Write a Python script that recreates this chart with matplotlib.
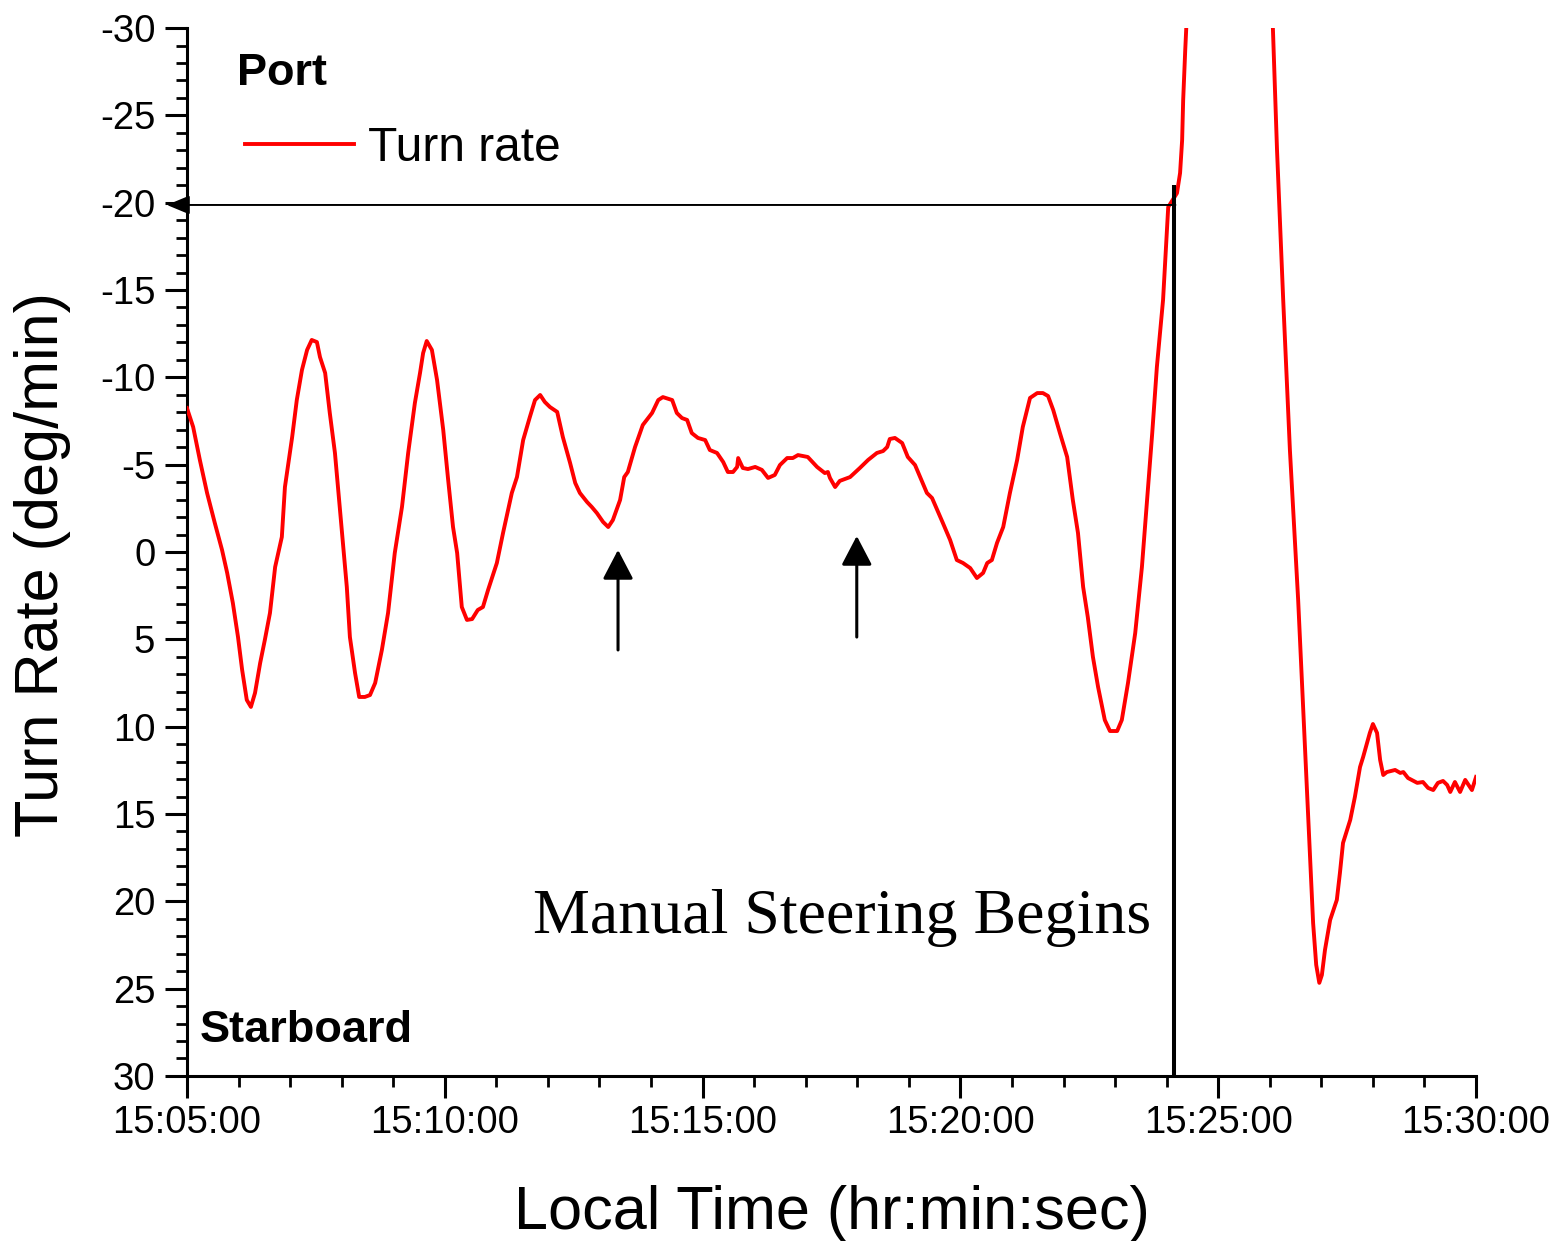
import matplotlib
matplotlib.use("Agg")
import matplotlib.pyplot as plt
import matplotlib.dates as mdates
import pandas as pd

plt.rcParams["font.family"] = ["Liberation Sans", "DejaVu Sans"]
plt.rcParams["axes.unicode_minus"] = False

START = pd.Timestamp("2000-01-01 15:05:00")
END = pd.Timestamp("2000-01-01 15:30:00")

# minutes after 15:05:00
t_min = [
    0.00, 0.12, 0.25, 0.39, 0.54, 0.68, 0.78, 0.89, 0.99, 1.07, 1.16, 1.24, 1.32, 1.42, 1.51, 1.61,
    1.71, 1.84, 1.90, 2.04, 2.13, 2.23, 2.33, 2.42, 2.52, 2.58, 2.68, 2.77, 2.87, 2.95, 3.03, 3.10,
    3.16, 3.26, 3.34, 3.45, 3.55, 3.65, 3.78, 3.90, 4.03, 4.17, 4.29, 4.42, 4.52, 4.58, 4.65, 4.75,
    4.85, 4.97, 5.06, 5.16, 5.24, 5.33, 5.43, 5.53, 5.64, 5.74, 5.84, 6.01, 6.13, 6.30, 6.40, 6.52,
    6.65, 6.75, 6.85, 6.94, 7.04, 7.18, 7.29, 7.43, 7.53, 7.62, 7.76, 7.85, 7.95, 8.07, 8.17, 8.26,
    8.40, 8.48, 8.55, 8.69, 8.84, 9.02, 9.14, 9.23, 9.41, 9.50, 9.60, 9.70, 9.79, 9.91, 10.05, 10.14,
    10.28, 10.40, 10.49, 10.59, 10.67, 10.69, 10.78, 10.88, 11.02, 11.15, 11.27, 11.40, 11.50, 11.64,
    11.75, 11.85, 12.04, 12.22, 12.37, 12.43, 12.47, 12.57, 12.66, 12.86, 13.05, 13.21, 13.38, 13.50,
    13.58, 13.63, 13.73, 13.87, 13.98, 14.12, 14.22, 14.35, 14.45, 14.55, 14.66, 14.80, 14.93, 15.05,
    15.19, 15.32, 15.44, 15.52, 15.61, 15.71, 15.83, 15.96, 16.10, 16.21, 16.35, 16.49, 16.60, 16.70,
    16.80, 16.93, 17.07, 17.18, 17.28, 17.38, 17.47, 17.57, 17.67, 17.80, 17.90, 18.04, 18.13, 18.25,
    18.39, 18.52, 18.62, 18.72, 18.81, 18.93, 19.03, 19.20, 19.26, 19.30, 19.32, 19.36, 19.38, 19.45,
    21.02, 21.06, 21.14, 21.26, 21.39, 21.55, 21.72, 21.84, 21.90, 21.96, 22.01, 22.07, 22.17, 22.30,
    22.36, 22.42, 22.56, 22.65, 22.75, 22.81, 22.94, 23.00, 23.08, 23.14, 23.20, 23.27, 23.43, 23.53,
    23.59, 23.68, 23.86, 23.97, 24.07, 24.17, 24.26, 24.36, 24.44, 24.50, 24.59, 24.69, 24.79, 24.92,
    25.00,
]
turn_rate = [
    -8.24, -7.16, -5.27, -3.38, -1.66, -0.12, 1.20, 2.92, 4.87, 6.75, 8.47, 8.87, 8.07, 6.35, 5.04, 3.49,
    0.86, -0.86, -3.72, -6.58, -8.70, -10.42, -11.57, -12.14, -12.02, -11.16, -10.25, -7.96, -5.67, -2.98, -0.29, 2.00,
    4.87, 6.93, 8.30, 8.30, 8.19, 7.50, 5.61, 3.49, 0.06, -2.58, -5.67, -8.53, -10.25, -11.39, -12.08, -11.57,
    -9.85, -6.99, -4.29, -1.43, 0.06, 3.15, 3.89, 3.84, 3.32, 3.15, 2.17, 0.63, -1.09, -3.38, -4.29, -6.41,
    -7.73, -8.70, -8.99, -8.59, -8.30, -8.02, -6.58, -5.10, -3.95, -3.38, -2.86, -2.58, -2.23, -1.72, -1.43, -1.83,
    -2.98, -4.29, -4.58, -6.01, -7.27, -7.96, -8.70, -8.87, -8.70, -7.96, -7.67, -7.56, -6.81, -6.53, -6.41, -5.84,
    -5.67, -5.15, -4.58, -4.58, -4.87, -5.38, -4.81, -4.75, -4.87, -4.70, -4.24, -4.41, -4.98, -5.38,
    -5.38, -5.55, -5.44, -4.87, -4.52, -4.58, -4.24, -3.72, -4.07, -4.29, -4.81, -5.27, -5.67, -5.78,
    -6.01, -6.47, -6.53, -6.24, -5.44, -4.98, -4.29, -3.38, -3.09, -2.41, -1.66, -0.69, 0.46, 0.63,
    0.92, 1.49, 1.20, 0.63, 0.46, -0.52, -1.43, -3.38, -5.27, -7.16, -8.82, -9.10, -9.10, -8.93,
    -8.13, -6.81, -5.44, -2.98, -1.09, 2.00, 3.72, 6.01, 7.73, 9.62, 10.25, 10.25, 9.62, 7.50,
    4.64, 0.86, -2.98, -6.81, -10.59, -14.43, -19.75, -20.55, -21.70, -23.59, -25.88, -28.74, -30.00, -35.00,
    -33.00, -30.00, -23.02, -14.43, -5.84, 2.75, 13.63, 21.24, 23.64, 24.67, 24.22, 22.79, 21.07, 19.92,
    18.38, 16.66, 15.34, 14.03, 12.31, 11.74, 10.36, 9.85, 10.36, 11.91, 12.77, 12.60, 12.48, 12.65,
    12.60, 12.94, 13.22, 13.17, 13.51, 13.63, 13.22, 13.11, 13.34, 13.74, 13.17, 13.74, 13.05, 13.63,
    12.88,
]

# annotation positions (minutes after 15:05:00, deg/min)
manual_start_min = 19.14
threshold_rate = -19.87
arrow_times = [8.36, 12.99]
arrow_tails = [5.61, 4.87]
arrow_tips = [-0.12, -0.92]


def at(minutes):
    return START + pd.Timedelta(minutes=minutes)


times = [at(m) for m in t_min]

fig = plt.figure(figsize=(15.58, 12.41), dpi=100)
ax = fig.add_axes([0.1200, 0.1330, 0.8274, 0.8444])

ax.plot(times, turn_rate, color="#ff0000", lw=2.8, label="Turn rate", zorder=3)

ax.set_xlim(START, END)
ax.set_ylim(30, -30)
ax.set_yticks(range(-30, 31, 5))
ax.set_yticks(range(-30, 31, 1), minor=True)
ax.xaxis.set_major_locator(mdates.MinuteLocator(byminute=range(0, 60, 5)))
ax.xaxis.set_minor_locator(mdates.MinuteLocator())
ax.xaxis.set_major_formatter(mdates.DateFormatter("%H:%M:%S"))

for side in ("top", "right"):
    ax.spines[side].set_visible(False)
for side in ("left", "bottom"):
    ax.spines[side].set_linewidth(2.2)

ax.tick_params(which="major", direction="out", length=15.8, width=2.2, labelsize=27.5)
ax.tick_params(which="minor", direction="out", length=7.9, width=2.0)
ax.tick_params(axis="y", which="major", pad=7)
ax.tick_params(axis="x", which="major", pad=5)

ax.set_ylabel("Turn Rate (deg/min)", fontsize=44)
ax.set_xlabel("Local Time (hr:min:sec)", fontsize=44)
ax.yaxis.set_label_coords(-0.090, 0.488)
ax.xaxis.set_label_coords(0.5, -0.104)

# threshold line with arrowhead on the axis
ax.annotate("", xy=(at(-0.39), threshold_rate), xytext=(at(manual_start_min + 0.03), threshold_rate),
            arrowprops=dict(arrowstyle="-|>,head_length=0.7,head_width=0.29", color="black",
                            lw=1.4, shrinkA=0, shrinkB=0, mutation_scale=20),
            annotation_clip=False, zorder=4)

# manual steering marker
ax.plot([at(manual_start_min), at(manual_start_min)], [30, -21.0], color="black", lw=2.9,
        solid_capstyle="butt", clip_on=False, zorder=4)
ax.text(at(6.71), 21.8, "Manual Steering Begins", family=["Liberation Serif", "DejaVu Serif"],
        fontsize=46, ha="left", va="baseline")

for t, tail, tip in zip(arrow_times, arrow_tails, arrow_tips):
    ax.annotate("", xy=(at(t), tip), xytext=(at(t), tail),
                arrowprops=dict(arrowstyle="-|>,head_length=0.9,head_width=0.47", color="black",
                                lw=2.2, shrinkA=0, shrinkB=0, mutation_scale=20))

ax.text(at(0.97), -27.4, "Port", fontsize=32.5, fontweight="bold", ha="left", va="center")
ax.text(at(0.25), 27.4, "Starboard", fontsize=32.5, fontweight="bold", ha="left", va="center")

ax.legend(loc="center left", bbox_to_anchor=(0.045, 0.885), frameon=False, fontsize=34.5,
          handlelength=2.27, handletextpad=0.30, borderpad=0, borderaxespad=0)

fig.savefig("out.png", dpi=100)
